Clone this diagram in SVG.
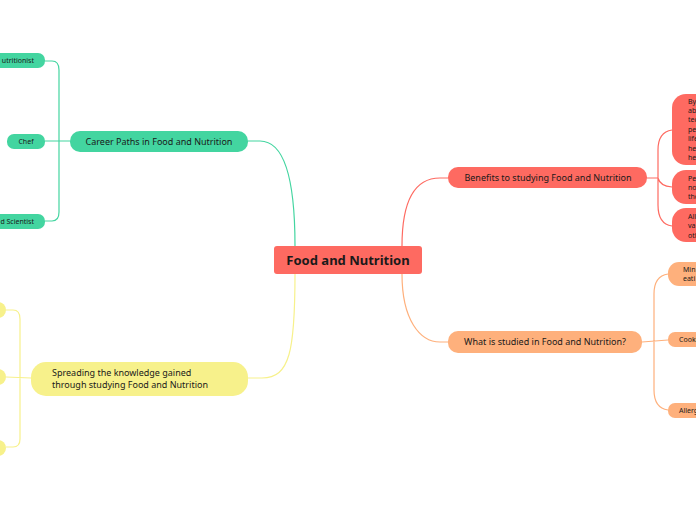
<svg xmlns="http://www.w3.org/2000/svg" width="696" height="520" viewBox="0 0 696 520">
<style>
text{font-family:"Noto Sans","Open Sans","DejaVu Sans",sans-serif;fill:#1a1a1a}
.t1{font-size:9px}
.t2{font-size:7px}
.c{fill:none;stroke-width:1.2}
.g{fill:#43d5a0}.gs{stroke:#43d5a0}
.y{fill:#f7f18b}.ys{stroke:#f7f18b}
.r{fill:#fe6a61}.rs{stroke:#fe6a61}
.o{fill:#feb07c}.os{stroke:#feb07c}
</style>
<rect width="696" height="520" fill="#ffffff"/>
<g id="connectors">
<path class="c gs" d="M295,246 C295,180 285,141 260,141 L248,141"/>
<path class="c ys" d="M295,274 C295,350 290,378 262,378 L248,378"/>
<path class="c rs" d="M402,246 C402,200 415,178 440,178 L448,178"/>
<path class="c os" d="M402,274 C402,320 420,342 440,342 L448,342"/>
<path class="c gs" d="M70,141 L45,141 M45,61 L52,61 Q59,61 59,70 L59,212 Q59,221 52,221 L45,221"/>
<path class="c ys" d="M31,378 L6,377 M6,310 L13,310 Q20,310 20,319 L20,439 Q20,447 13,447 L6,447"/>
<path class="c rs" d="M647,178 L658,178 M672,130 Q658,132 658,150 L658,205 Q658,224 672,226 M658,178 Q660,186 672,187"/>
<path class="c os" d="M642,342 L668,340 M668,274 Q654,276 654,294 L654,390 Q654,408 668,410"/>
</g>
<g id="root">
<rect x="274" y="246" width="148" height="28" rx="3" class="r"/>
<text x="348" y="265" font-size="13" font-weight="bold" text-anchor="middle" fill="#000">Food and Nutrition</text>
</g>
<g id="career">
<rect x="70" y="131" width="178" height="21" rx="10" class="g"/>
<text x="159" y="145" class="t1" text-anchor="middle">Career Paths in Food and Nutrition</text>
</g>
<g id="nutritionist">
<rect x="-40" y="53" width="85" height="15" rx="7" class="g"/>
<text x="34" y="63" class="t2" text-anchor="end">utritionist</text>
</g>
<g id="chef">
<rect x="7" y="134" width="38" height="15" rx="7" class="g"/>
<text x="26" y="144" class="t2" text-anchor="middle">Chef</text>
</g>
<g id="scientist">
<rect x="-40" y="214" width="85" height="15" rx="7" class="g"/>
<text x="34" y="224" class="t2" text-anchor="end">d Scientist</text>
</g>
<g id="spreading">
<rect x="31" y="362" width="217" height="34" rx="15" class="y"/>
<text x="52" y="376" class="t1">Spreading the knowledge gained</text>
<text x="52" y="388" class="t1">through studying Food and Nutrition</text>
</g>
<g id="y1"><rect x="-30" y="302" width="36" height="16" rx="8" class="y"/></g>
<g id="y2"><rect x="-30" y="369" width="36" height="16" rx="8" class="y"/></g>
<g id="y3"><rect x="-30" y="440" width="36" height="16" rx="8" class="y"/></g>
<g id="benefits">
<rect x="448" y="167" width="199" height="21" rx="10" class="r"/>
<text x="548" y="181" class="t1" text-anchor="middle">Benefits to studying Food and Nutrition</text>
</g>
<g id="b1">
<rect x="672" y="94" width="60" height="71" rx="14" class="r"/>
<g class="t2"><text x="688" y="104">By</text><text x="688" y="113">ab</text><text x="688" y="122">tec</text><text x="688" y="132">pe</text><text x="688" y="141">life</text><text x="688" y="151">he</text><text x="688" y="160">he</text></g>
</g>
<g id="b2">
<rect x="672" y="170" width="60" height="34" rx="14" class="r"/>
<g class="t2"><text x="688" y="181">Pe</text><text x="688" y="190">no</text><text x="688" y="199">the</text></g>
</g>
<g id="b3">
<rect x="672" y="208" width="60" height="34" rx="14" class="r"/>
<g class="t2"><text x="688" y="219">All</text><text x="688" y="228">va</text><text x="688" y="238">oth</text></g>
</g>
<g id="studied">
<rect x="448" y="331" width="194" height="22" rx="10" class="o"/>
<text x="545" y="345" class="t1" text-anchor="middle">What is studied in Food and Nutrition?</text>
</g>
<g id="s1">
<rect x="668" y="262" width="60" height="24" rx="11" class="o"/>
<g class="t2"><text x="683" y="272">Min</text><text x="683" y="281">eati</text></g>
</g>
<g id="s2">
<rect x="668" y="332" width="60" height="15" rx="7" class="o"/>
<text x="679" y="342" class="t2">Cooki</text>
</g>
<g id="s3">
<rect x="668" y="403" width="60" height="15" rx="7" class="o"/>
<text x="679" y="413" class="t2">Allerg</text>
</g>
</svg>
